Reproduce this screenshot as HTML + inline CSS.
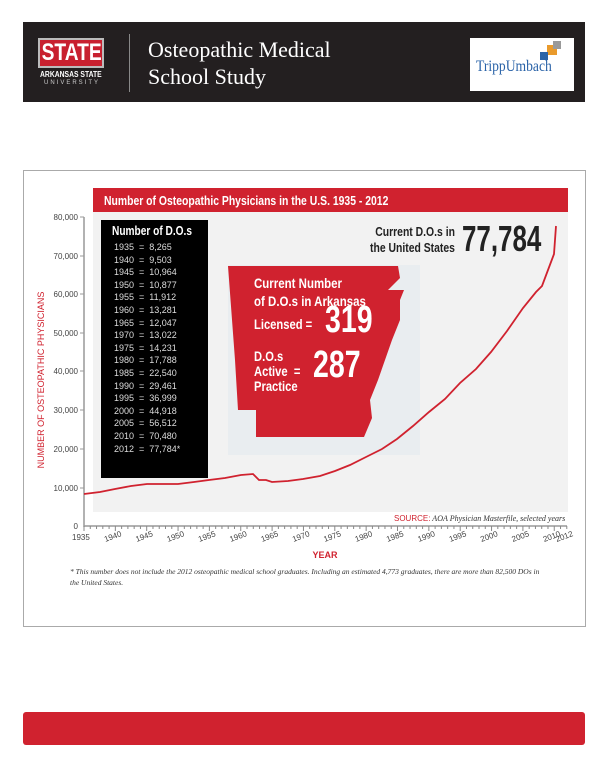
<!DOCTYPE html>
<html><head><meta charset="utf-8"><style>
body{margin:0;width:608px;height:768px;background:#fff;position:relative;overflow:hidden;font-family:"Liberation Sans",sans-serif}
.abs{position:absolute}
.n{transform-origin:0 0;white-space:nowrap}
</style></head><body>
<div class="abs" style="left:23px;top:22px;width:562px;height:80px;background:#231f20"></div>
<div class="abs" style="left:38px;top:38px;width:66px;height:30px;background:#c8202f;border:2px solid #bbb;box-sizing:border-box;overflow:hidden"><div class="n" style="color:#fff;font:bold 24px/26px 'Liberation Sans',sans-serif;transform:scaleX(0.8);padding-left:2px">STATE</div></div>
<div class="abs n" style="left:40px;top:70px;color:#fff;font:bold 8px 'Liberation Sans',sans-serif;transform:scaleX(0.85)">ARKANSAS STATE</div>
<div class="abs" style="left:36px;top:80px;width:72px;color:#ccc;font:6px 'Liberation Sans',sans-serif;text-align:center;letter-spacing:2px">UNIVERSITY</div>
<div class="abs" style="left:129px;top:34px;width:1px;height:58px;background:#888"></div>
<div class="abs" style="left:148px;top:36px;color:#fff;font:22px/27px 'Liberation Serif',serif">Osteopathic Medical<br>School Study</div>
<div class="abs" style="left:470px;top:38px;width:104px;height:53px;background:#fff"></div>
<div class="abs n" style="left:476px;top:58px;color:#2a63a8;font:16px 'Liberation Serif',serif;transform:scaleX(0.85)">TrippUmbach</div>
<div class="abs" style="left:547px;top:45px;width:10px;height:10px;background:#e99a2c"></div>
<div class="abs" style="left:553px;top:41px;width:8px;height:8px;background:#999"></div>
<div class="abs" style="left:540px;top:52px;width:8px;height:8px;background:#2a63a8"></div>

<div class="abs" style="left:23px;top:170px;width:561px;height:455px;border:1px solid #aaa"></div>
<div class="abs" style="left:93px;top:209px;width:475px;height:303px;background:#f2f2f2"></div>
<div class="abs" style="left:228px;top:265px;width:192px;height:190px;background:#e9edf0"></div>
<div class="abs" style="left:93px;top:188px;width:475px;height:24px;background:#d0222f"></div>
<div class="abs n" style="left:104px;top:193px;color:#fff;font:bold 13px 'Liberation Sans',sans-serif;transform:scaleX(0.8)">Number of Osteopathic Physicians in the U.S. 1935 - 2012</div>

<svg class="abs" style="left:0;top:0" width="608" height="768">
<g font-family="Liberation Sans" font-size="8" fill="#444" text-anchor="end">
<text x="78" y="220">80,000</text><text x="78" y="259">70,000</text><text x="78" y="297">60,000</text><text x="78" y="336">50,000</text><text x="78" y="374">40,000</text><text x="78" y="413">30,000</text><text x="78" y="452">20,000</text><text x="78" y="491">10,000</text><text x="78" y="529">0</text>
</g>
<line x1="84" y1="217" x2="84" y2="527" stroke="#999" stroke-width="1.5"/>
<line x1="84" y1="526" x2="567" y2="526" stroke="#999" stroke-width="1.5"/>
<g stroke="#999"><path d="M80 217h4M80 256h4M80 294h4M80 333h4M80 371h4M80 410h4M80 449h4M80 488h4"/></g>
<g id="ticks" stroke="#888"></g>
<g font-family="Liberation Sans" font-size="8" fill="#444" id="xl"></g>
<path d="M228 266 L398 266 L400 278 L388 290 L404 290 L400 300 L400 320 L392 340 L385 360 L378 380 L370 400 L372 418 L364 437 L256 437 L256 410 L238 410 L235 360 Z" fill="#d0222f"/>
<polyline fill="none" stroke="#d0222f" stroke-width="1.8" points="84,494 100,492 115,489 131,486 147,484 163,484 178,484 194,482 209,480 225,478 241,475 253,474 259,480 266,480 272,482 288,481 303,479 320,476 335,471 350,465 366,457 382,449 397,439 413,426 429,412 445,399 460,383 476,369 491,352 507,331 523,308 536,292 542,286 548,270 554,254 556,226" />
<text x="325" y="558" font-family="Liberation Sans" font-weight="bold" font-size="9" fill="#d0222f" text-anchor="middle">YEAR</text>
<text transform="translate(44,380) rotate(-90)" font-family="Liberation Sans" font-size="9" fill="#d0222f" text-anchor="middle">NUMBER OF OSTEOPATHIC PHYSICIANS</text>
</svg>

<div class="abs" style="left:101px;top:220px;width:107px;height:258px;background:#000"></div>
<div class="abs n" style="left:112px;top:223px;color:#fff;font:bold 13px 'Liberation Sans',sans-serif;transform:scaleX(0.78)">Number of D.O.s</div>
<div class="abs" style="left:114px;top:241px;color:#ddd;font:9px/12.6px 'Liberation Sans',sans-serif;white-space:pre">1935  =  8,265
1940  =  9,503
1945  =  10,964
1950  =  10,877
1955  =  11,912
1960  =  13,281
1965  =  12,047
1970  =  13,022
1975  =  14,231
1980  =  17,788
1985  =  22,540
1990  =  29,461
1995  =  36,999
2000  =  44,918
2005  =  56,512
2010  =  70,480
2012  =  77,784*</div>

<div class="abs n" style="left:370px;top:224px;color:#222;font:bold 13px/16px 'Liberation Sans',sans-serif;text-align:right;transform:scaleX(0.8)">Current D.O.s in<br>the United States</div>
<div class="abs n" style="left:462px;top:218px;color:#222;font:bold 36px 'Liberation Sans',sans-serif;transform:scaleX(0.72)">77,784</div>

<div class="abs n" style="left:254px;top:274px;color:#fff;font:bold 14px/18px 'Liberation Sans',sans-serif;transform:scaleX(0.82)">Current Number<br>of D.O.s in Arkansas</div>
<div class="abs n" style="left:254px;top:316px;color:#fff;font:bold 14px 'Liberation Sans',sans-serif;transform:scaleX(0.8)">Licensed =</div>
<div class="abs n" style="left:325px;top:299px;color:#fff;font:bold 38px 'Liberation Sans',sans-serif;transform:scaleX(0.75)">319</div>
<div class="abs n" style="left:254px;top:349px;color:#fff;font:bold 14px/15px 'Liberation Sans',sans-serif;transform:scaleX(0.8)">D.O.s<br>Active &nbsp;=<br>Practice</div>
<div class="abs n" style="left:313px;top:344px;color:#fff;font:bold 38px 'Liberation Sans',sans-serif;transform:scaleX(0.75)">287</div>

<div class="abs" style="left:394px;top:514px;font:8px 'Liberation Serif',serif;color:#333;font-style:italic"><span style="font-style:normal;font-family:'Liberation Sans';color:#d0222f">SOURCE:</span> AOA Physician Masterfile, selected years</div>

<div class="abs" style="left:70px;top:566px;width:480px;font:italic 7.5px/11px 'Liberation Serif',serif;color:#333">* This number does not include the 2012 osteopathic medical school graduates. Including an estimated 4,773 graduates, there are more than 82,500 DOs in the United States.</div>

<div class="abs" style="left:23px;top:712px;width:562px;height:33px;background:#d0222f;border-radius:3px"></div>
<script>
var t=document.getElementById('ticks'),l=document.getElementById('xl'),s='';
for(var y=1935;y<=2012;y++){var x=84+(y-1935)*6.27;s+='<line x1="'+x+'" y1="526" x2="'+x+'" y2="'+(y%5==0?531:529)+'"/>';}
t.innerHTML=s;s='';
var ys=[1935,1940,1945,1950,1955,1960,1965,1970,1975,1980,1985,1990,1995,2000,2005,2010,2012];
ys.forEach(function(y){var x=84+(y-1935)*6.27;if(y==1935)s+='<text x="72" y="540">1935</text>';else s+='<text transform="translate('+(x-10)+',542) rotate(-20)">'+y+'</text>';});
l.innerHTML=s;
</script>
</body></html>
